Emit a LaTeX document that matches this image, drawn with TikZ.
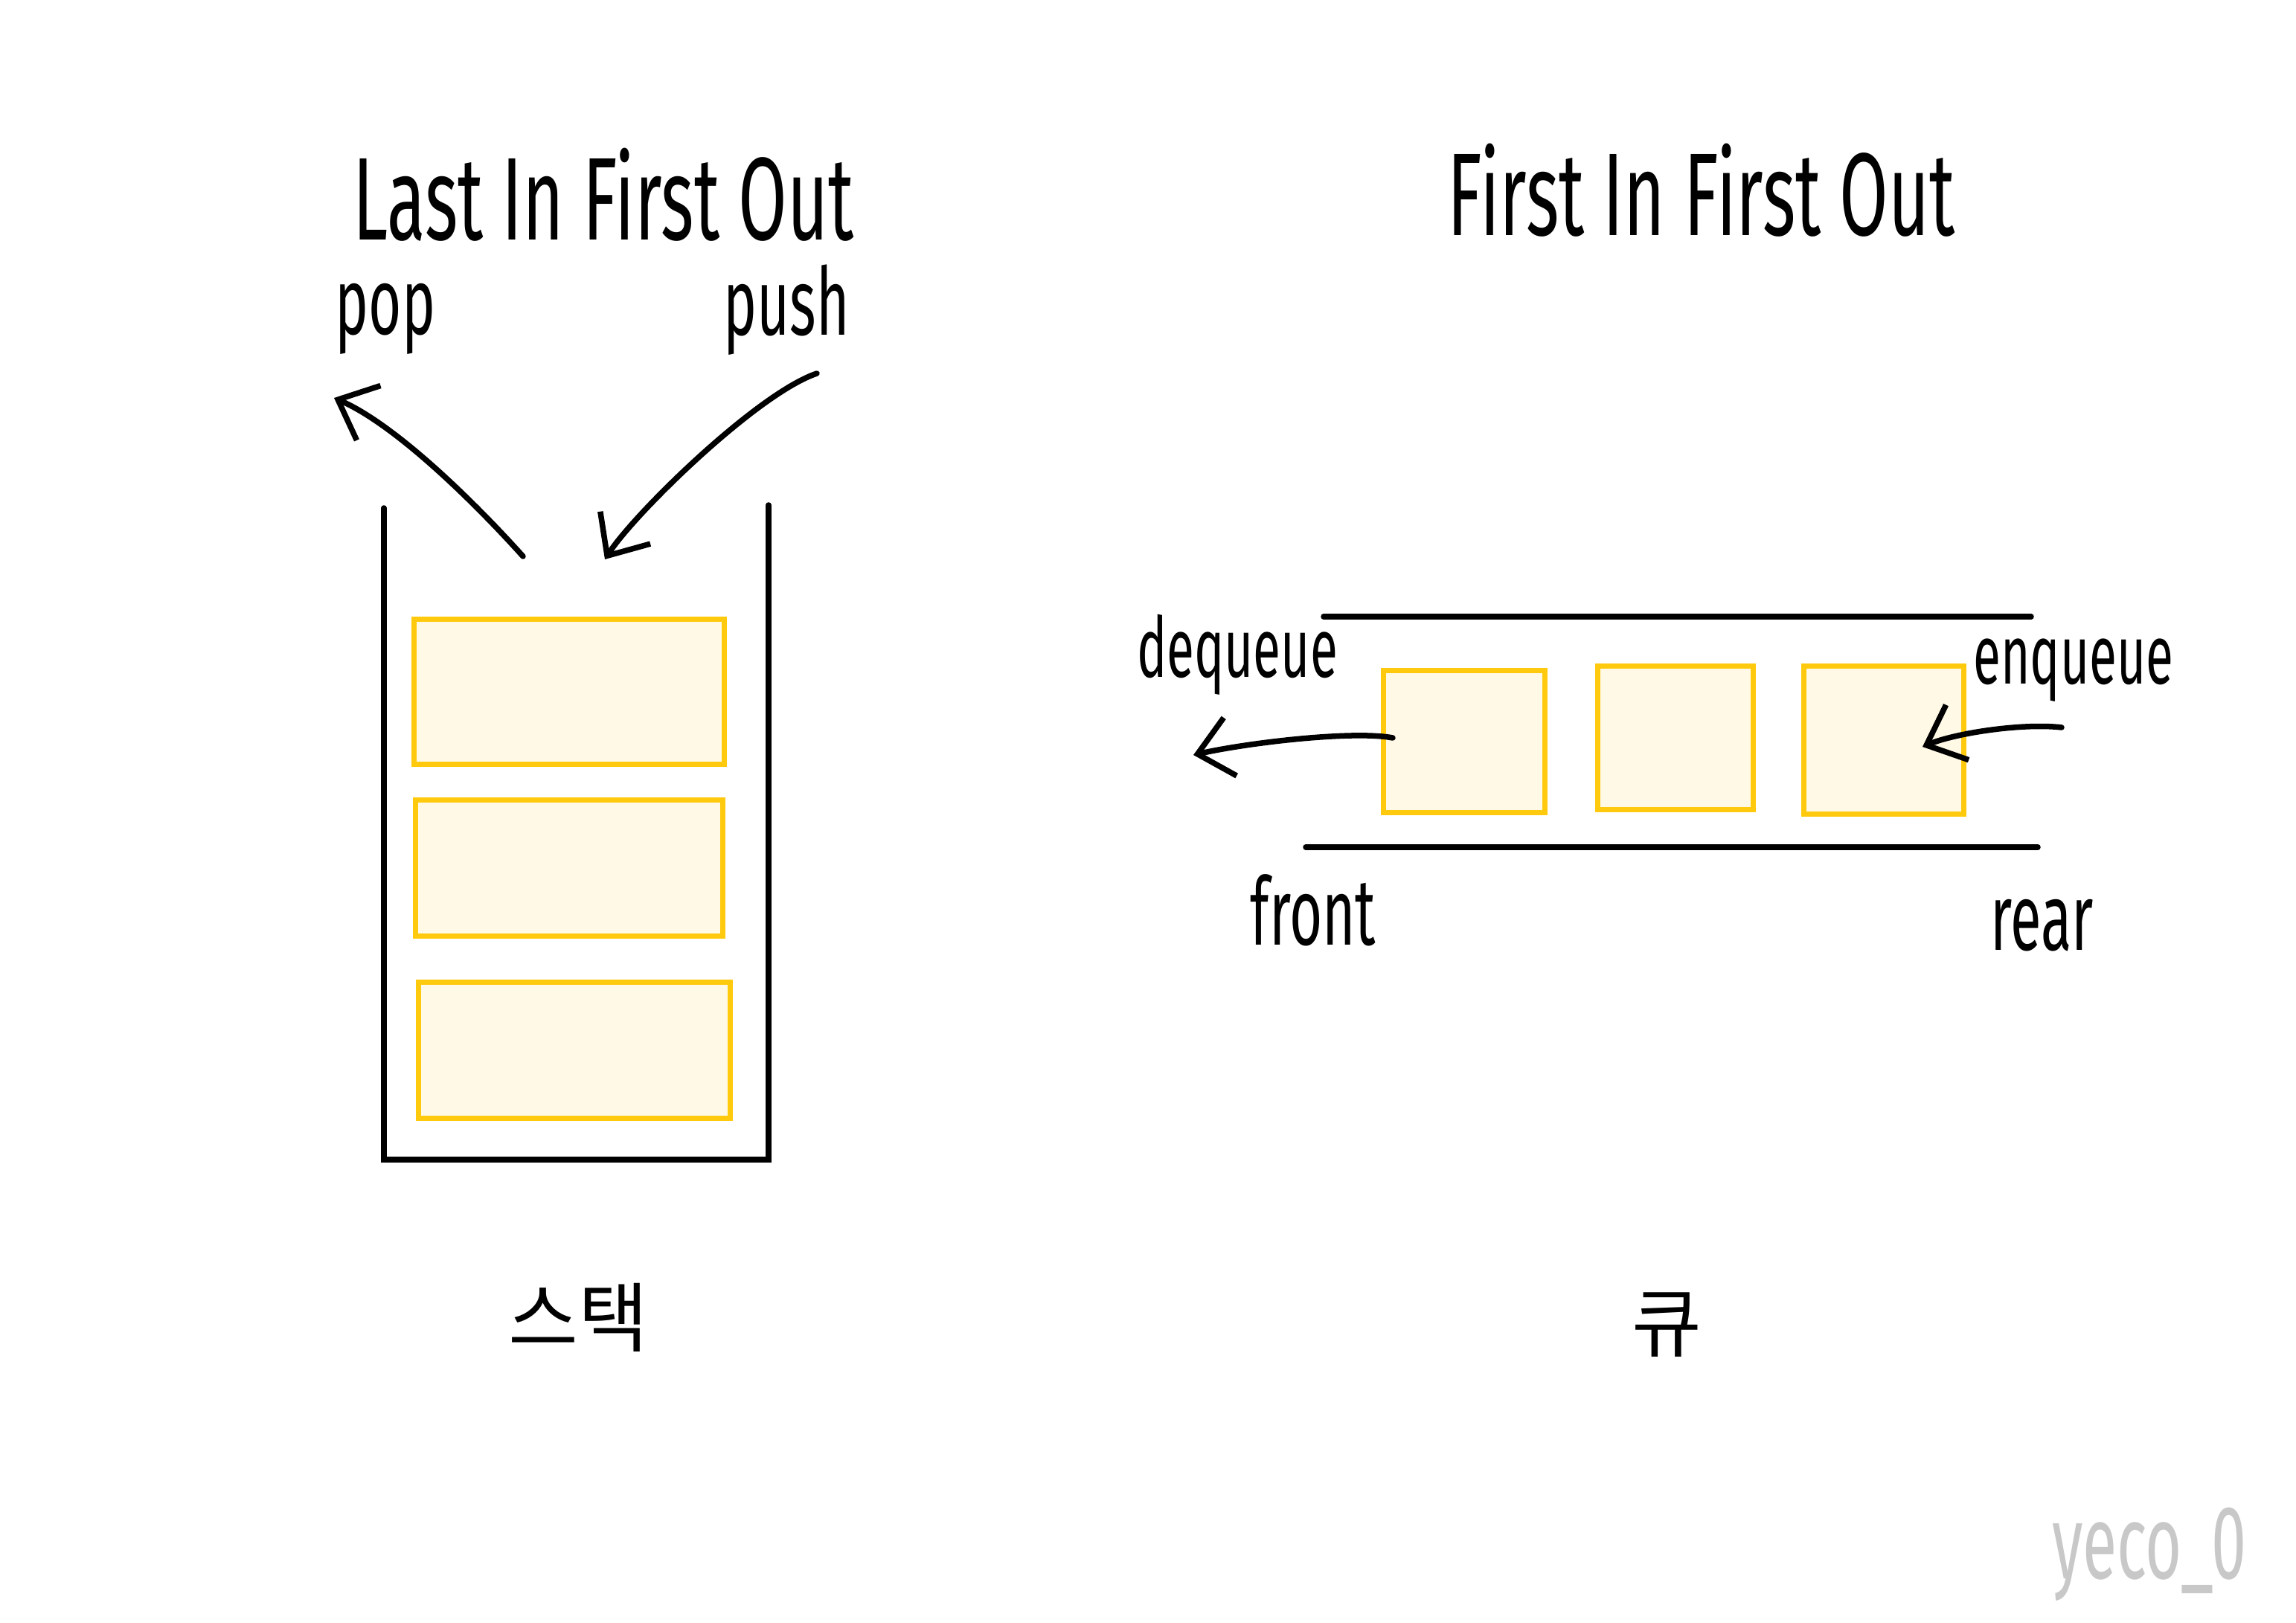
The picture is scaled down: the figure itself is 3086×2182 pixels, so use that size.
\documentclass[tikz,border=0pt]{standalone}
\usepackage{fontspec}
\setmainfont{Fira Sans}[FakeStretch=0.6]
\newfontfamily\korfont{Noto Sans CJK KR}
\usepackage{xcolor}
\usetikzlibrary{arrows.meta}
\definecolor{figYellow}{HTML}{FFC90E}
\definecolor{figCream}{HTML}{FFF9E6}
\definecolor{figGray}{HTML}{C8C8C8}

\begin{document}
\begin{tikzpicture}[
  x=0.01cm, y=-0.01cm,
  hand/.style={font=\fontsize{36}{40}\selectfont, inner sep=0pt},
  small/.style={font=\fontsize{32}{36}\selectfont, inner sep=0pt},
  title/.style={font=\fontsize{45}{50}\selectfont, inner sep=0pt},
  kor/.style={font=\korfont\fontsize{29}{32}\selectfont, inner sep=0pt},
  cell/.style={draw=figYellow, fill=figCream, line width=0.07cm, inner sep=0pt},
  wall/.style={line width=0.075cm, line cap=round},
  arrow/.style={-{Straight Barb[length=0.45cm, width=0.8cm]}, line width=0.075cm, line cap=round},
]
\useasboundingbox (0,0) rectangle (3086,2182);

% === Stack ===
\draw[wall] (516,683) |- (1033,1559) -- (1033,679);
\node[cell, minimum width=4.17cm, minimum height=1.95cm] (s1) at (765,930) {};
\node[cell, minimum width=4.13cm, minimum height=1.82cm] (s2) at (765,1167) {};
\node[cell, minimum width=4.19cm, minimum height=1.83cm] (s3) at (772,1412) {};

% === Stack labels ===
\node[title] (lifo) at (811,262) {Last In First Out};
\node[hand] (pop) at (518,429) {pop};
\node[hand] (push) at (1057,417) {push};
\node[kor] (stackname) at (777,1771) {스택};

% === Stack arrows ===
\coordinate (popstart) at (703,748);
\coordinate (popend) at (449,535);
\coordinate (pushstart) at (1098,502);
\coordinate (pushend) at (813,752);
\draw[arrow] (popstart) .. controls (643,681) and (534,572) .. (popend);
\draw[arrow] (pushstart) .. controls (1018,529) and (853,690) .. (pushend);

% === Queue ===
\draw[wall] (1779,829) -- (2730,829);
\draw[wall] (1755,1139) -- (2739,1139);
\node[cell, minimum width=2.16cm, minimum height=1.91cm] (q1) at (1968,997) {};
\node[cell, minimum width=2.09cm, minimum height=1.93cm] (q2) at (2252,992) {};
\node[cell, minimum width=2.14cm, minimum height=1.99cm] (q3) at (2532,995) {};

% === Queue labels ===
\node[title] (fifo) at (2287,256) {First In First Out};
\node[small] (deq) at (1663,880) {dequeue};
\node[small] (enq) at (2787,901) {enqueue};
\node[hand] (front) at (1765,1224) {front};
\node[hand] (rear) at (2745,1244) {rear};
\node[kor] (queuename) at (2240,1781) {큐};

% === Queue arrows ===
\coordinate (deqstart) at (1872,992);
\coordinate (deqend) at (1604,1015);
\coordinate (enqstart) at (2771,978);
\coordinate (enqend) at (2584,1004);
\draw[arrow] (deqstart) .. controls (1820,982) and (1680,998) .. (deqend);
\draw[arrow] (enqstart) .. controls (2720,972) and (2630,985) .. (enqend);

% === Signature ===
\node[hand, text=figGray, font=\fontsize{40}{44}\selectfont] (sign) at (2889,2090) {yeco\_0};

\end{tikzpicture}
\end{document}
